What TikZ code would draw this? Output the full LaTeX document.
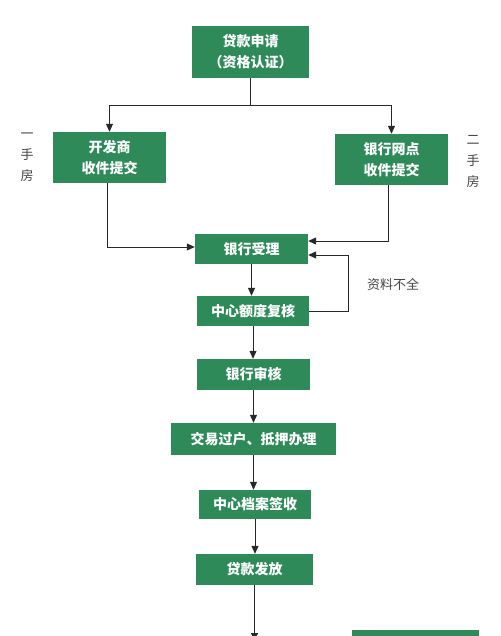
\documentclass[tikz,border=0pt]{standalone}
\usepackage{fontspec}
\newfontfamily\cjk{Noto Sans CJK SC}
\usetikzlibrary{arrows.meta}
\definecolor{boxgreen}{RGB}{46,139,89}
\definecolor{linegray}{RGB}{40,40,40}
\definecolor{labgray}{RGB}{70,70,70}
\tikzset{
  stepbox/.style={draw=none,fill=boxgreen,text=white,font=\cjk\bfseries\fontsize{14pt}{21pt}\selectfont,
    inner sep=0pt,align=center},
  arr/.style={draw=linegray,line width=1pt,-{Triangle[length=8pt,width=7pt]}},
  ln/.style={draw=linegray,line width=1pt},
  side/.style={text=labgray,font=\cjk\fontsize{13pt}{21pt}\selectfont,align=center,inner sep=0pt},
}
\begin{document}
\begin{tikzpicture}[x=1pt,y=-1pt]
\useasboundingbox (0,0) rectangle (500,636);
\fill[white] (0,0) rectangle (500,636);
\node[stepbox,minimum width=117pt,minimum height=52pt] (top) at (250.5,52) {贷款申请\\（资格认证）};
\node[stepbox,minimum width=113pt,minimum height=51pt] (dev) at (109.5,157.5) {开发商\\收件提交};
\node[stepbox,minimum width=113pt,minimum height=51pt] (bank) at (391.5,159.5) {银行网点\\收件提交};
\node[stepbox,minimum width=113pt,minimum height=30pt] (accept) at (251.5,249) {银行受理};
\node[stepbox,minimum width=112pt,minimum height=30pt] (review) at (253,311) {中心额度复核};
\node[stepbox,minimum width=113pt,minimum height=31pt] (audit) at (253.5,374.5) {银行审核};
\node[stepbox,minimum width=165pt,minimum height=32pt] (transfer) at (253.5,439) {交易过户、抵押办理};
\node[stepbox,minimum width=112pt,minimum height=29pt] (archive) at (255,504.5) {中心档案签收};
\node[stepbox,minimum width=117pt,minimum height=31pt] (release) at (254.5,569.5) {贷款发放};
\node[stepbox,minimum width=127pt,minimum height=40pt] (next) at (415.5,650) {};
\coordinate (below) at (253.5,641);

\node[side] (lab1) at (27,157) {一\\手\\房};
\node[side] (lab2) at (473,161) {二\\手\\房};
\node[side] (lab3) at (393,284) {资料不全};

\coordinate (split) at (250.5,106);
\draw[ln] (top.south) -- (split);
\draw[arr] (split) -| (dev.north);
\draw[arr] (split) -| (bank.north);
\draw[arr] ([xshift=-2.5pt]dev.south) |- ([yshift=2pt]accept.west);
\draw[arr] ([xshift=-3.5pt]bank.south) |- ([yshift=8pt]accept.east);
\draw[arr] (review.east) -- ++(39,0) |- ([yshift=-6pt]accept.east);
\draw[arr] (accept.south) -- (accept.south |- review.north);
\draw[arr] (review.south) -- (review.south |- audit.north);
\draw[arr] (audit.south) -- (audit.south |- transfer.north);
\draw[arr] (transfer.south) -- (transfer.south |- archive.north);
\draw[arr] (archive.south) -- (archive.south |- release.north);
\draw[arr] (release.south) -- (release.south |- below);
\end{tikzpicture}
\end{document}
